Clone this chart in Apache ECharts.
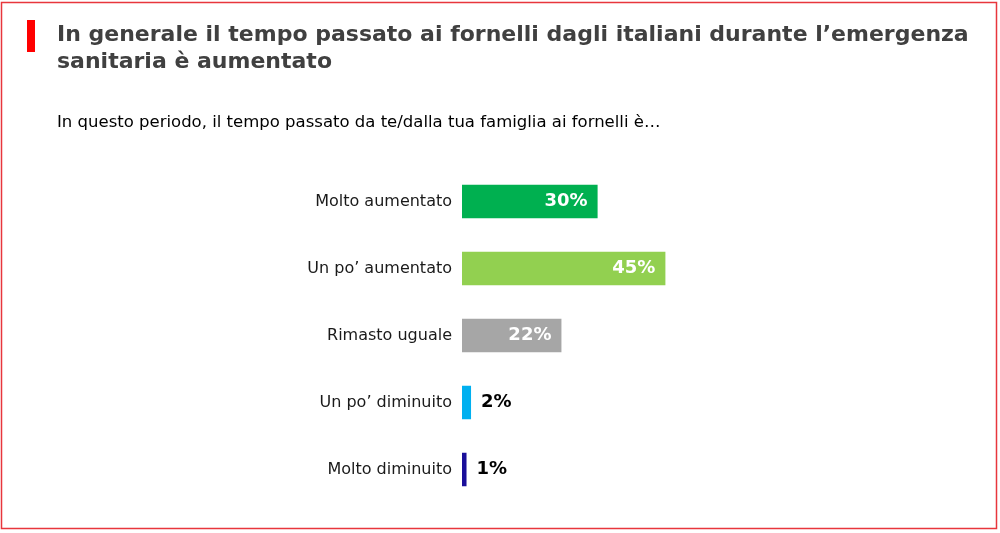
<!DOCTYPE html>
<html>
<head>
<meta charset="utf-8">
<script src="https://cdn.jsdelivr.net/npm/echarts@6/dist/echarts.min.js"></script>
<style>
html,body{margin:0;padding:0;background:#fff;}
#chart{width:1000px;height:533px;}
</style>
</head>
<body>
<div id="chart"></div>
<script>
const titleText = "In generale il tempo passato ai fornelli dagli italiani durante l’emergenza\nsanitaria è aumentato";
const subtitleText = "In questo periodo, il tempo passato da te/dalla tua famiglia ai fornelli è…";
const categories = ["Molto aumentato", "Un po’ aumentato", "Rimasto uguale", "Un po’ diminuito", "Molto diminuito"];
const values = [30, 45, 22, 2, 1];
const barColors = ["#00b050", "#92d050", "#a6a6a6", "#00b0f0", "#1a0f9a"];
const insideLabel = [true, true, true, false, false];

const chart = echarts.init(document.getElementById('chart'));
const FONT = "'DejaVu Sans', Verdana, sans-serif";

chart.setOption({
  animation: false,
  backgroundColor: '#ffffff',
  title: [
    {
      text: titleText,
      left: 57, top: 22, padding: 0,
      textStyle: { fontFamily: FONT, fontSize: 22, fontWeight: 'bold', color: '#404040', lineHeight: 27 }
    },
    {
      text: subtitleText,
      left: 57, top: 113, padding: 0,
      textStyle: { fontFamily: FONT, fontSize: 16.5, fontWeight: 'normal', color: '#000000', lineHeight: 20 }
    }
  ],
  graphic: [
    { type: 'rect', shape: { x: 1.5, y: 2.5, width: 995, height: 526 }, style: { fill: 'none', stroke: '#e8363c', lineWidth: 1.5 }, z: 100 },
    { type: 'rect', shape: { x: 27, y: 20, width: 8, height: 32 }, style: { fill: '#ff0000' } }
  ],
  grid: { left: 462, right: 86, top: 168, bottom: 30, containLabel: false },
  xAxis: { type: 'value', min: 0, max: 100, show: false },
  yAxis: {
    type: 'category', data: categories, inverse: true,
    axisLine: { show: false }, axisTick: { show: false },
    axisLabel: { fontFamily: FONT, fontSize: 16, color: '#1a1a1a', margin: 10 }
  },
  series: [{
    type: 'bar',
    barWidth: '50%',
    data: values.map((v, i) => ({
      value: v,
      itemStyle: { color: barColors[i] },
      label: insideLabel[i]
        ? { show: true, position: 'insideRight', distance: 10, color: '#ffffff' }
        : { show: true, position: 'right', distance: 10, color: '#000000' }
    })),
    label: { show: true, formatter: '{c}%', fontFamily: FONT, fontSize: 18, fontWeight: 'bold' }
  }]
});
</script>
</body>
</html>
